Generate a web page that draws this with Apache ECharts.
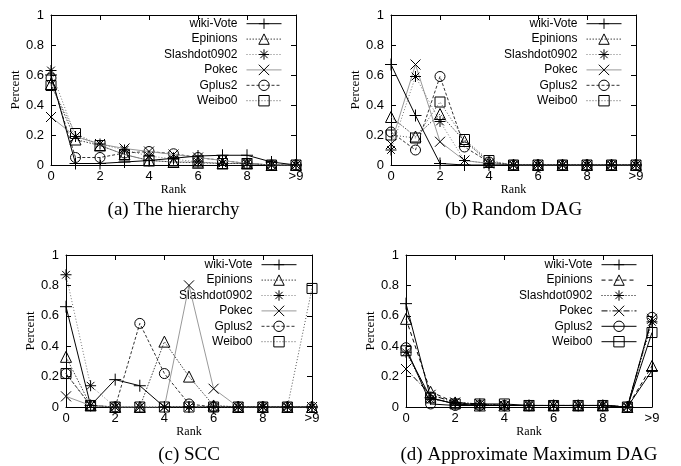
<!DOCTYPE html>
<html>
<head>
<meta charset="utf-8">
<script src="https://cdn.jsdelivr.net/npm/echarts@6/dist/echarts.min.js"></script>
<style>
  html, body { margin: 0; padding: 0; background: #fff; }
  #chart { width: 681px; height: 466px; }
</style>
</head>
<body>
<div id="chart"></div>
<script>
// x categories (rank) and legend names
const ranks = ['0', '1', '2', '3', '4', '5', '6', '7', '8', '9', '>9'];
const names = ['wiki-Vote', 'Epinions', 'Slashdot0902', 'Pokec', 'Gplus2', 'Weibo0'];
const yTicks = [0, 0.2, 0.4, 0.6, 0.8, 1];

// (a) The hierarchy
const hierWiki     = [0.60, 0.01, 0.01, 0.02, 0.03, 0.045, 0.06, 0.065, 0.065, 0.02, 0.0];
const hierEpinions = [0.54, 0.17, 0.13, 0.07, 0.03, 0.02, 0.015, 0.01, 0.01, 0.0, 0.0];
const hierSlashdot = [0.63, 0.19, 0.14, 0.10, 0.06, 0.04, 0.02, 0.01, 0.01, 0.0, 0.0];
const hierPokec    = [0.32, 0.19, 0.14, 0.11, 0.09, 0.07, 0.05, 0.03, 0.01, 0.0, 0.0];
const hierGplus    = [0.58, 0.05, 0.05, 0.08, 0.09, 0.075, 0.05, 0.03, 0.01, 0.0, 0.0];
const hierWeibo    = [0.53, 0.21, 0.13, 0.07, 0.03, 0.02, 0.02, 0.01, 0.01, 0.0, 0.0];

// (b) Random DAG
const randWiki     = [0.67, 0.33, 0.01, 0, 0, 0, 0, 0, 0, 0, 0];
const randEpinions = [0.32, 0.19, 0.34, 0.16, 0.02, 0, 0, 0, 0, 0, 0];
const randSlashdot = [0.10, 0.59, 0.29, 0.03, 0.01, 0, 0, 0, 0, 0, 0];
const randPokec    = [0.14, 0.67, 0.155, 0.03, 0.01, 0, 0, 0, 0, 0, 0];
const randGplus    = [0.22, 0.10, 0.59, 0.12, 0.02, 0, 0, 0, 0, 0, 0];
const randWeibo    = [0.20, 0.18, 0.42, 0.17, 0.03, 0, 0, 0, 0, 0, 0];

// (c) SCC
const sccWiki     = [0.66, 0.01, 0.18, 0.14, 0, 0, 0, 0, 0, 0, 0];
const sccEpinions = [0.33, 0.01, 0, 0, 0.43, 0.20, 0.01, 0, 0, 0, 0];
const sccSlashdot = [0.87, 0.14, 0, 0, 0, 0, 0, 0, 0, 0, 0];
const sccPokec    = [0.07, 0.01, 0, 0, 0, 0.80, 0.12, 0, 0, 0, 0];
const sccGplus    = [0.22, 0.01, 0, 0.55, 0.22, 0.02, 0, 0, 0, 0, 0];
const sccWeibo    = [0.22, 0.01, 0, 0, 0, 0, 0, 0, 0, 0, 0.78];

// (d) Approximate Maximum DAG
const amdWiki     = [0.68, 0.06, 0.02, 0.01, 0.01, 0.01, 0.01, 0.01, 0.01, 0, 0.24];
const amdEpinions = [0.58, 0.10, 0.03, 0.01, 0.01, 0.01, 0.01, 0.01, 0.01, 0, 0.27];
const amdSlashdot = [0.36, 0.05, 0.03, 0.02, 0.01, 0.01, 0.01, 0.01, 0.01, 0, 0.56];
const amdPokec    = [0.25, 0.08, 0.03, 0.02, 0.01, 0.01, 0.01, 0.01, 0.01, 0, 0.58];
const amdGplus    = [0.39, 0.02, 0.01, 0.01, 0.01, 0.01, 0.01, 0.01, 0.01, 0, 0.59];
const amdWeibo    = [0.37, 0.06, 0.02, 0.02, 0.02, 0.01, 0.01, 0.01, 0.01, 0, 0.49];

const captions = ['(a) The hierarchy', '(b) Random DAG', '(c) SCC', '(d) Approximate Maximum DAG'];
const plotData = [
  [hierWiki, hierEpinions, hierSlashdot, hierPokec, hierGplus, hierWeibo],
  [randWiki, randEpinions, randSlashdot, randPokec, randGplus, randWeibo],
  [sccWiki, sccEpinions, sccSlashdot, sccPokec, sccGplus, sccWeibo],
  [amdWiki, amdEpinions, amdSlashdot, amdPokec, amdGplus, amdWeibo]
];

// layout of the four panels
const grids = [
  { left: 51, top: 15, width: 245, height: 150 },
  { left: 391, top: 15, width: 245, height: 150 },
  { left: 66, top: 255, width: 246, height: 152 },
  { left: 406, top: 255, width: 246, height: 152 }
];
const legendPos = [
  { right: 399, top: 16 },
  { right: 59, top: 16 },
  { right: 384, top: 257 },
  { right: 44, top: 257 }
];
const captionY = [210, 210, 455, 455];

// gnuplot-like point types
const symbols = [
  'path://M5,0V10M0,5H10',
  'triangle',
  'path://M5,0V10M0,5H10M1.5,1.5L8.5,8.5M1.5,8.5L8.5,1.5',
  'path://M0,0L10,10M0,10L10,0',
  'circle',
  'rect'
];
const symbolSizes = [12, 11, 11, 10, 10, 10];

// line styles: panels a-c share one set, panel d has its own
const lineStylesABC = [
  { color: '#000', type: 'solid' },
  { color: '#444', type: [1.5, 1.5] },
  { color: '#777', type: [1, 2] },
  { color: '#999', type: 'solid' },
  { color: '#333', type: [3, 2] },
  { color: '#555', type: [1, 2] }
];
const lineStylesD = [
  { color: '#000', type: 'solid' },
  { color: '#000', type: [4, 3] },
  { color: '#000', type: [1, 2] },
  { color: '#000', type: [6, 2, 1, 2] },
  { color: '#000', type: 'solid' },
  { color: '#000', type: 'solid' }
];

const sans = 'Liberation Sans';
const serif = 'Liberation Serif';
const black = { color: '#000', width: 1 };

let option = {
  animation: false,
  backgroundColor: '#fff',
  grid: [],
  xAxis: [],
  yAxis: [],
  legend: [],
  series: [],
  graphic: []
};

grids.forEach(function (g, i) {
  option.grid.push(Object.assign({ outerBoundsMode: 'none', containLabel: false }, g));

  // bottom axis with labels, top axis as mirror ticks
  option.xAxis.push({
    gridIndex: i,
    type: 'category',
    data: ranks,
    boundaryGap: false,
    position: 'bottom',
    axisLine: { show: true, onZero: false, lineStyle: black },
    axisTick: { show: true, inside: true, length: 5, interval: 1, lineStyle: black },
    axisLabel: { interval: 1, margin: 5, color: '#000', fontSize: 13, fontFamily: sans },
    splitLine: { show: false },
    name: 'Rank',
    nameLocation: 'middle',
    nameGap: 14,
    nameTextStyle: { fontFamily: serif, fontSize: 12, color: '#000' }
  });
  option.xAxis.push({
    gridIndex: i,
    type: 'category',
    data: ranks,
    boundaryGap: false,
    position: 'top',
    axisLine: { show: true, onZero: false, lineStyle: black },
    axisTick: { show: true, inside: true, length: 5, interval: 1, lineStyle: black },
    axisLabel: { show: false },
    splitLine: { show: false }
  });

  option.yAxis.push({
    gridIndex: i,
    type: 'value',
    min: yTicks[0],
    max: yTicks[yTicks.length - 1],
    interval: 0.2,
    position: 'left',
    axisLine: { show: true, onZero: false, lineStyle: black },
    axisTick: { show: true, inside: true, length: 5, lineStyle: black },
    axisLabel: { margin: 7, color: '#000', fontSize: 13, fontFamily: sans },
    splitLine: { show: false },
    name: 'Percent',
    nameLocation: 'middle',
    nameRotate: 90,
    nameGap: 27,
    nameTextStyle: { fontFamily: serif, fontSize: 13, color: '#000' }
  });
  option.yAxis.push({
    gridIndex: i,
    type: 'value',
    min: yTicks[0],
    max: yTicks[yTicks.length - 1],
    interval: 0.2,
    position: 'right',
    axisLine: { show: true, onZero: false, lineStyle: black },
    axisTick: { show: true, inside: true, length: 5, lineStyle: black },
    axisLabel: { show: false },
    splitLine: { show: false }
  });

  // series names carry a panel suffix so each legend picks its own style
  const styles = i === 3 ? lineStylesD : lineStylesABC;
  const legendNames = [];
  names.forEach(function (n, k) {
    const sName = n + '#' + i;
    legendNames.push(sName);
    option.series.push({
      name: sName,
      type: 'line',
      xAxisIndex: 2 * i,
      yAxisIndex: 2 * i,
      data: plotData[i][k],
      symbol: symbols[k],
      symbolSize: symbolSizes[k],
      showAllSymbol: true,
      z: 10 - k,
      lineStyle: { color: styles[k].color, type: styles[k].type, width: 1 },
      itemStyle: { color: 'none', borderColor: '#000', borderWidth: 1 },
      emphasis: { disabled: true }
    });
  });

  option.legend.push(Object.assign({
    orient: 'vertical',
    align: 'right',
    itemWidth: 35,
    itemHeight: 13,
    itemGap: 0,
    padding: 0,
    selectedMode: false,
    data: legendNames,
    formatter: function (name) { return name.split('#')[0]; },
    lineStyle: { width: 1 },
    itemStyle: { borderWidth: 1 },
    textStyle: { fontFamily: sans, fontSize: 12, color: '#000', padding: [0, 4, 0, 0] }
  }, legendPos[i]));

  option.graphic.push({
    type: 'text',
    x: g.left + g.width / 2,
    y: captionY[i],
    style: {
      text: captions[i],
      align: 'center',
      verticalAlign: 'middle',
      fontSize: 19,
      fontFamily: serif,
      fill: '#000'
    }
  });
});

let chart = echarts.init(document.getElementById('chart'), null, { renderer: 'canvas' });
chart.setOption(option);
</script>
</body>
</html>
